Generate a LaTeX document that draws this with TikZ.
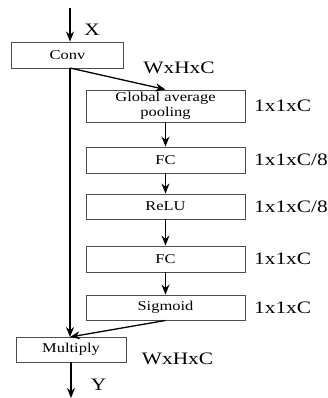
\documentclass[tikz,border=0pt]{standalone}
\usepackage{fontspec}
\setmainfont[FakeStretch=1.22]{Liberation Serif}
\usetikzlibrary{arrows.meta}
\begin{document}
\begin{tikzpicture}[x=1pt,y=-1pt,
  blk/.style={draw=black!70,line width=0.9pt,minimum width=159pt,inner sep=0pt,align=center,font=\fontsize{13.5}{14}\selectfont},
  lbl/.style={font=\fontsize{17.5}{18}\selectfont,inner sep=0pt},
  arr/.style={line width=1.3pt,-{Stealth[length=10pt,width=8pt]}},
  ln/.style={line width=1.3pt}]
\useasboundingbox (0,0) rectangle (327,398);
\node[blk,minimum width=112pt,minimum height=26pt] (conv) at (67.5,55) {Conv};
\node[blk,minimum height=32pt] (gap) at (165.5,106) {Global average\\[0.5pt]pooling};
\node[blk,minimum height=26pt] (fc1) at (165.5,160) {FC};
\node[blk,minimum height=25pt] (relu) at (165.5,206.5) {ReLU};
\node[blk,minimum height=26pt] (fc2) at (165.5,259) {FC};
\node[blk,minimum height=25pt] (sig) at (165.5,307.5) {Sigmoid};
\node[blk,minimum width=110pt,minimum height=25pt] (mul) at (71,349.5) {Multiply};
\coordinate (xin) at (70,8);
\coordinate (cs) at (70,68);
\coordinate (mt) at (70,337);
\coordinate (yout) at (71,398);
\draw[arr] (xin) -- (xin |- conv.north);
\draw[arr] (cs) -- (gap.north);
\draw[arr] (cs) -- (mt);
\draw[arr] (gap) -- (fc1);
\draw[arr] (fc1) -- (relu);
\draw[arr] (relu) -- (fc2);
\draw[arr] (fc2) -- (sig);
\draw[arr] (sig.south) -- (mt);
\draw[arr] (mul.south) -- (yout);
\node[lbl] (x) at (92,30) {X};
\node[lbl] (y) at (98.5,385) {Y};
\node[lbl] (w1) at (179,68) {WxHxC};
\node[lbl] (w2) at (177.5,359) {WxHxC};
\node[lbl,anchor=west] (l1) at (254,106) {1x1xC};
\node[lbl,anchor=west] (l2) at (254,160) {1x1xC/8};
\node[lbl,anchor=west] (l3) at (254,207) {1x1xC/8};
\node[lbl,anchor=west] (l4) at (254,259) {1x1xC};
\node[lbl,anchor=west] (l5) at (254,308) {1x1xC};
\end{tikzpicture}
\end{document}
